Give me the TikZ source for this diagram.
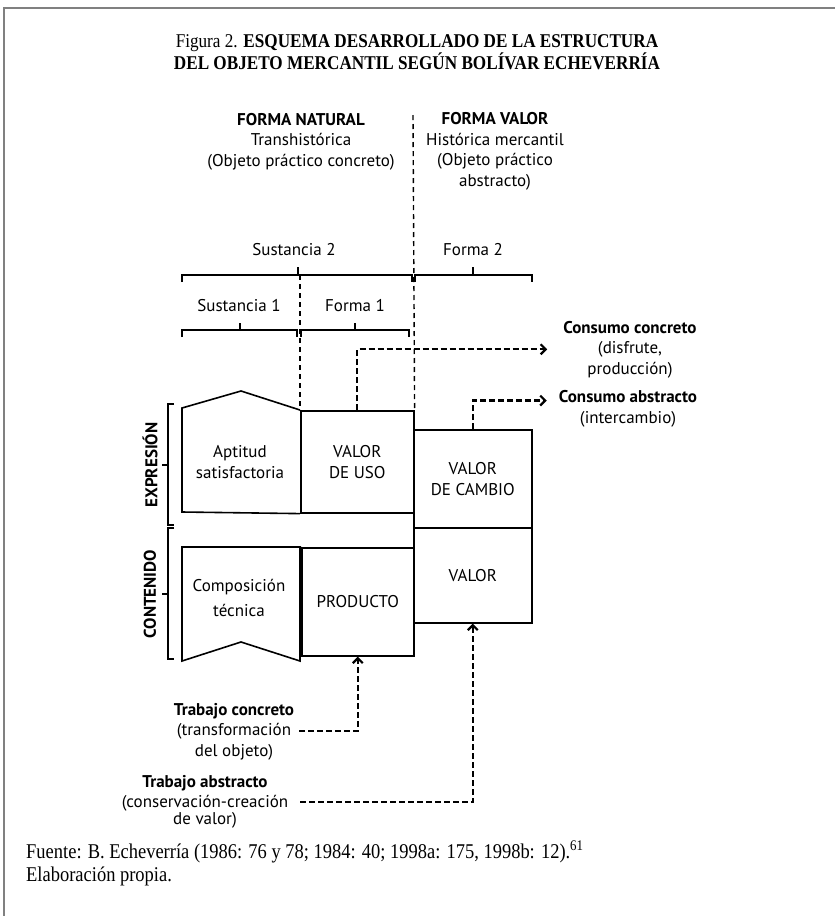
\documentclass[tikz,border=0pt]{standalone}
\usepackage{fontspec}
\setmainfont{Liberation Serif}[FakeStretch=0.88]
\setsansfont{PT Sans}
\usepackage{tikz}
\usetikzlibrary{arrows.meta}

\tikzset{
    txt/.style={font=\sffamily\fontsize{17}{20.5}\selectfont, inner sep=2pt, align=center},
    caja/.style={txt, draw, line width=1.6pt, anchor=north west, inner sep=0pt},
    brk/.style={line width=1.4pt},
    sep/.style={line width=1.4pt, dash pattern=on 5pt off 4pt},
    flujo/.style={line width=2.2pt, dash pattern=on 6pt off 3pt, -{Straight Barb[length=5pt,width=10pt]}},
    marco/.style={gray, line width=2pt},
    titulo/.style={font=\fontsize{19.5}{22}\selectfont, align=center, inner sep=0pt},
    pie/.style={font=\fontsize{21}{23}\selectfont, align=left, inner sep=0pt}
}

\begin{document}
\begin{tikzpicture}[x=1pt,y=-1pt]
        \useasboundingbox (0,0) rectangle (835,916);

        %MARCO
        \draw[marco] (4,920) -- (4,8) -- (840,8);

        %TITULO
        \node[titulo, anchor=base] (title) at (417,69) {Figura 2. \textbf{ESQUEMA DESARROLLADO DE LA ESTRUCTURA}\\\textbf{DEL OBJETO MERCANTIL SEGÚN BOLÍVAR ECHEVERRÍA}};

        %ENCABEZADOS
        \node[txt, anchor=base] (natural) at (301,166) {\textbf{FORMA NATURAL}\\Transhistórica\\(Objeto práctico concreto)};
        \node[txt, anchor=base] (valorform) at (495,186) {\textbf{FORMA VALOR}\\Histórica mercantil\\(Objeto práctico\\abstracto)};

        %CAJAS
        \node[caja, minimum width=113pt, minimum height=102pt] (uso) at (300,410) {VALOR\\DE USO};
        \node[caja, minimum width=118pt, minimum height=98pt] (cambio) at (413,429) {VALOR\\DE CAMBIO};
        \node[caja, minimum width=118pt, minimum height=95pt] (valor) at (413,527) {VALOR};
        \node[caja, minimum width=112pt, minimum height=108pt] (producto) at (301,547) {PRODUCTO};
        \draw[line width=1.6pt] (uso.south west) -- (182,512) -- (182,408) -- (241,391) -- (uso.north west);
        \draw[line width=1.6pt] (producto.north west) -- (182,547) -- (182,661) -- (241,642) -- (300,661) -- (300,547);
        \node[txt] (aptitud) at (240,462) {Aptitud\\satisfactoria};
        \node[txt] (composicion) at (239,598) {Composición\\[4pt]técnica};

        %LLAVES
        \draw[brk] (182,282) -- (182,275) -- (412,275) -- (412,282);
        \draw[brk] (298,275) -- (298,267);
        \draw[brk] (415,282) -- (415,275) -- (532,275) -- (532,282);
        \draw[brk] (473,275) -- (473,267);
        \draw[brk] (182,337) -- (182,330) -- (297,330) -- (297,337);
        \draw[brk] (240,330) -- (240,323);
        \draw[brk] (301,337) -- (301,330) -- (409,330) -- (409,337);
        \draw[brk] (355,330) -- (355,323);
        \node[txt, anchor=base] (sus2) at (294,255) {Sustancia 2};
        \node[txt, anchor=base] (form2) at (473,255) {Forma 2};
        \node[txt, anchor=base] (sus1) at (239,311) {Sustancia 1};
        \node[txt, anchor=base] (form1) at (355,311) {Forma 1};

        \draw[brk] (174,404) -- (168,404) -- (168,525) -- (174,525);
        \draw[brk] (168,465) -- (162,465);
        \draw[brk] (174,528) -- (168,528) -- (168,659) -- (174,659);
        \draw[brk] (168,594) -- (162,594);
        \node[txt, rotate=90] (expresion) at (150,465) {\textbf{EXPRESIÓN}};
        \node[txt, rotate=90] (contenido) at (150,594) {\textbf{CONTENIDO}};

        %SEPARADORES
        \draw[sep] (413,115) -- (uso.north east);
        \draw[sep] (300,275) -- (uso.north west);

        %CONSUMO Y TRABAJO
        \node[txt, anchor=base] (cconcreto) at (630,374) {\textbf{Consumo concreto}\\(disfrute,\\producción)};
        \node[txt, anchor=base] (cabstracto) at (628,423) {\textbf{Consumo abstracto}\\(intercambio)};
        \node[txt, anchor=base] (tconcreto) at (234,756) {\textbf{Trabajo concreto}\\(transformación\\del objeto)};
        \node[txt, anchor=base] (tabstracto) at (205,824) {\textbf{Trabajo abstracto}\\(conservación-creación\\[-4pt]de valor)};

        \draw[flujo, shorten >=14pt] (uso.north) |- (cconcreto.west);
        \draw[flujo, shorten >=10pt] (cambio.north) |- ([yshift=8pt]cabstracto.west);
        \draw[flujo] ([xshift=3pt]tconcreto.east) -| (producto.south);
        \draw[flujo] ([xshift=10pt,yshift=-1pt]tabstracto.east) -| (valor.south);

        %FUENTE
        \node[pie, anchor=base west] (fuente) at (26,881) {Fuente: B. Echeverría (1986: 76 y 78; 1984: 40; 1998a: 175, 1998b: 12).\textsuperscript{61}\\Elaboración propia.};
\end{tikzpicture}
\end{document}
